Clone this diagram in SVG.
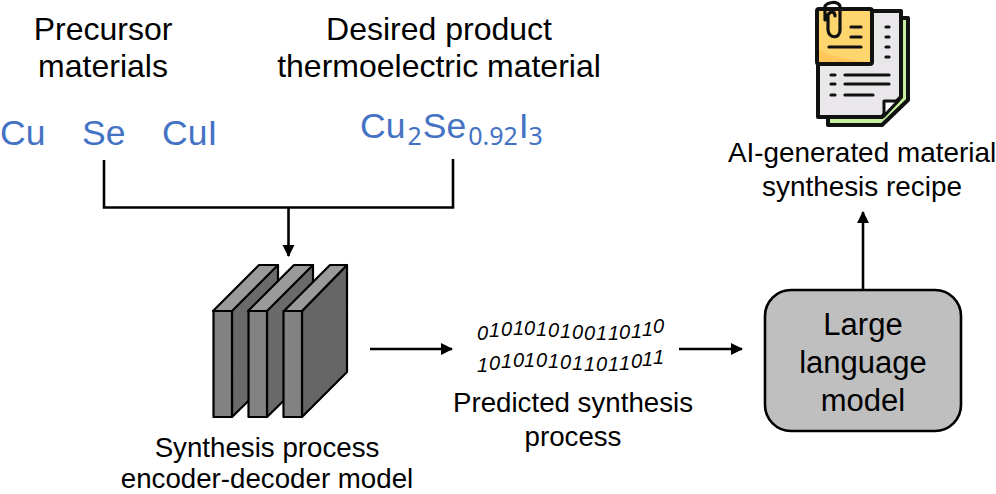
<svg xmlns="http://www.w3.org/2000/svg" width="996" height="494" viewBox="0 0 996 494">
<style>
text{font-family:"Liberation Sans",Arial,sans-serif;fill:#000}
.t{font-size:32px;text-anchor:middle}
.l{font-size:31px;text-anchor:middle}
.m{font-size:27.7px;text-anchor:middle}
.r{font-size:27.900px;text-anchor:middle}
.b{font-size:35.500px;fill:#4472C4}
.bs{font-size:25px;fill:#4472C4;font-family:"Noto Sans",sans-serif}
.c{fill:none;stroke:#000;stroke-width:2.6}
.bin{font-size:20px;font-style:italic}
.k{stroke:#000;stroke-width:2.2;stroke-linejoin:round}
.i{fill:none;stroke:#111;stroke-width:3.2;stroke-linecap:round;stroke-linejoin:round}
</style>
<defs><marker id="a" markerUnits="userSpaceOnUse" markerWidth="14" markerHeight="14" refX="11" refY="6" orient="auto"><path d="M0 0L12 6L0 12Z" fill="#000"/></marker></defs>
<g id="precursor-label"><text class="t" x="103" y="40">Precursor</text><text class="t" x="103" y="77">materials</text></g>
<g id="product-label"><text class="t" x="439" y="40">Desired product</text><text class="t" x="439" y="77">thermoelectric material</text></g>
<g id="cu"><text class="b" x="0" y="145">Cu</text></g>
<g id="se"><text class="b" x="82" y="145">Se</text></g>
<g id="cui"><text class="b" x="162" y="145">CuI</text></g>
<g id="product-formula"><text class="b" x="360" y="138">Cu<tspan class="bs" dx="2" dy="7">2</tspan><tspan dx="1" dy="-7">Se</tspan><tspan class="bs" dx="2" dy="7">0.92</tspan><tspan dx="1" dy="-7">I</tspan><tspan class="bs" dy="7">3</tspan></text></g>
<g id="connectors">
<path class="c" d="M104 160V207.500H453V159"/>
<path class="c" d="M288.500 207.500V256" marker-end="url(#a)"/>
<path class="c" d="M370 349H452" marker-end="url(#a)"/>
<path class="c" d="M679 349H742" marker-end="url(#a)"/>
<path class="c" d="M863 289V212" marker-end="url(#a)"/>
</g>
<g id="encoder-decoder" class="k">
<path d="M232 310L277 265H278V372L232 417Z" fill="#6a6a6a"/><path d="M213 311L259 265H278L232 311Z" fill="#9a9a9a"/><rect x="213.500" y="311" width="18.500" height="106" fill="#828282"/>
<path d="M267 310L312 265H313V372L267 417Z" fill="#6a6a6a"/><path d="M248 311L294 265H313L267 311Z" fill="#9a9a9a"/><rect x="248.500" y="311" width="18.500" height="106" fill="#828282"/>
<path d="M302 311L347 265V372L302 417Z" fill="#666"/><path d="M284 311L330 265H347L302 311Z" fill="#9a9a9a"/><rect x="283.500" y="311" width="18.500" height="106" fill="#828282"/>
</g>
<g id="encoder-label"><text class="m" x="267" y="457">Synthesis process</text><text class="m" x="267" y="488">encoder-decoder model</text></g>
<g id="binary">
<text class="bin" x="477 489 501 513 524 536 548 560 572 584 596 608 619 631 642 653" y="340 337 336 335 335 336 337 338 339 340 340 340 339 338 336 333">0101010100110110</text>
<text class="bin" x="477 489 501 513 524 536 548 560 572 584 596 608 619 631 642 653" y="372 370 368 367 367 367 368 369 370 371 371 371 370 368 366 363.500">1010101011011011</text>
</g>
<g id="predicted-label"><text class="m" x="573" y="412">Predicted synthesis</text><text class="m" x="573" y="446">process</text></g>
<g id="llm"><rect x="765" y="290" width="196" height="141" rx="26" fill="#BFBFBF" stroke="#000" stroke-width="2.600"/><text class="l" x="863" y="335">Large</text><text class="l" x="863" y="373">language</text><text class="l" x="863" y="411">model</text></g>
<g id="recipe-icon">
<path d="M828 18H908V100L882 125H828Z" fill="#C6EFA0" stroke="#111" stroke-width="4" stroke-linejoin="round"/>
<path d="M818 11H901V97L882 117H818Z" fill="#E9E7EA" stroke="#111" stroke-width="4" stroke-linejoin="round"/>
<path d="M884 116V101H898Z" fill="#fff" stroke="#111" stroke-width="3" stroke-linejoin="round"/>
<rect x="817" y="9" width="55" height="55" rx="2" fill="#FFD66E" stroke="#111" stroke-width="4" stroke-linejoin="round"/>
<path d="M819 50Q840 60 870 62H819Z" fill="#FFC65A"/>
<path class="i" d="M825 20V7C825 2 840 0 840 7V30C840 39 829 39 828 30V15C830 11 835 11 835 16"/>
<path class="i" d="M851 27H861M851 37H861M829 47H861M886 27H889M886 37H889M886 47H889M886 57H889M831 75H835M845 75H889M831 84H835M845 84H889M831 95H835M845 95H873"/>
</g>
<g id="recipe-label"><text class="r" x="862" y="162">AI-generated material</text><text class="r" x="862" y="196">synthesis recipe</text></g>
</svg>
